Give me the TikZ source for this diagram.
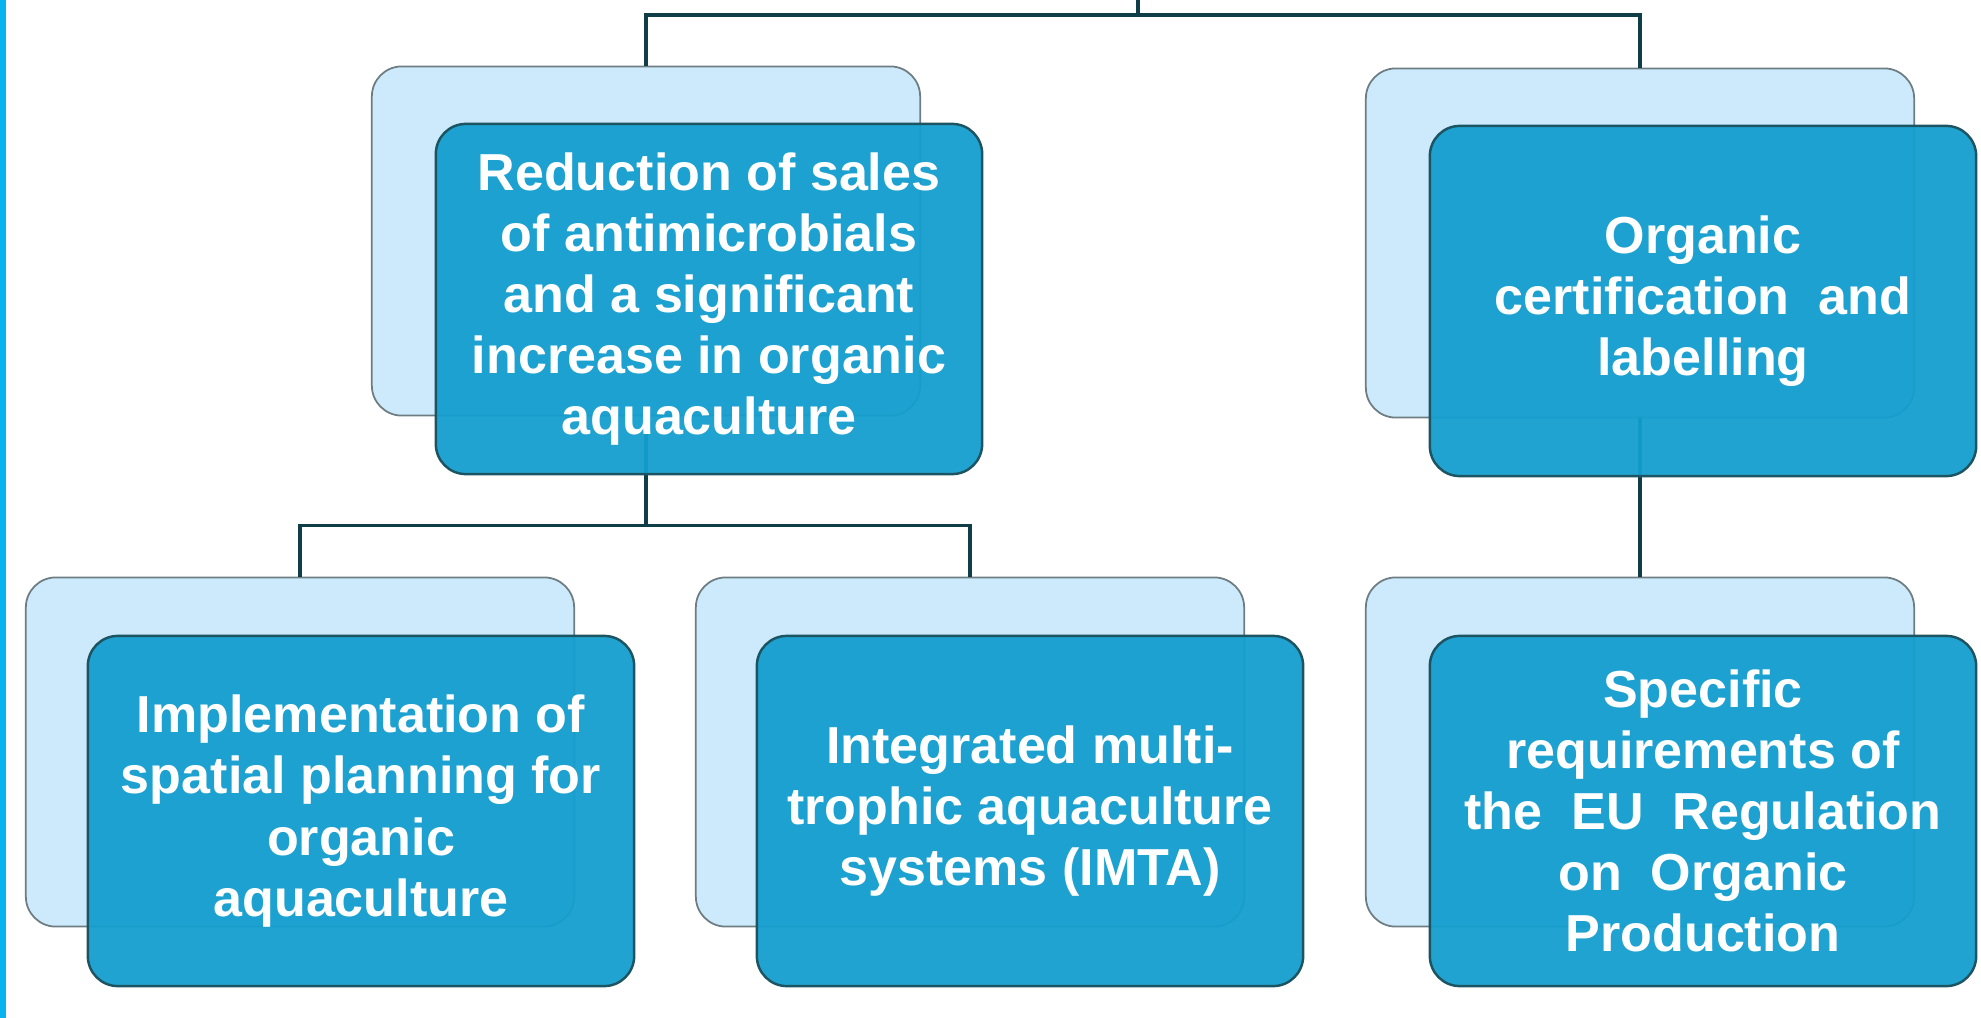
\documentclass[tikz,border=0pt]{standalone}
\usepackage{xcolor}
\usepackage{fontspec}
\setmainfont{Liberation Sans}
\usepackage{tikz}
\usetikzlibrary{positioning, calc}
\definecolor{backblue}{RGB}{204,234,251}
\definecolor{frontblue}{RGB}{20,158,206}
\definecolor{edgegray}{RGB}{110,125,130}
\definecolor{edgeteal}{RGB}{28,84,98}
\definecolor{linkcolor}{RGB}{16,62,72}
\definecolor{stripeblue}{RGB}{8,180,240}

\begin{document}
\begin{tikzpicture}[
    x=0.01cm, y=-0.01cm,
    backbox/.style={rectangle, rounded corners=0.3cm, draw=edgegray, line width=0.5pt, fill=backblue, minimum width=5.48cm, minimum height=3.49cm},
    frontbox/.style={rectangle, rounded corners=0.3cm, draw=edgeteal, line width=0.7pt, fill=frontblue, fill opacity=0.95, text opacity=1, text=white, minimum width=5.46cm, minimum height=3.5cm, align=center, font=\bfseries\fontsize{14.8}{17.4}\selectfont},
    link/.style={draw=linkcolor, line width=1pt}
]
    \useasboundingbox (0,0) rectangle (1981,1018);
    \fill[stripeblue] (0,0) rectangle (6,1018);

    \node[backbox] (reductionbg) at (646,241) {};
    \node[backbox] (organicbg) at (1640,243) {};
    \node[backbox] (spatialbg) at (300,752) {};
    \node[backbox] (imtabg) at (970,752) {};
    \node[backbox] (regulationbg) at (1640,752) {};

    \coordinate (rootend) at (1138,0);
    \coordinate (rootjoin) at (1138,15);
    \draw[link] (rootend) -- (rootjoin) -| (reductionbg.north);
    \draw[link] (rootjoin) -| (organicbg.north);
    \coordinate (reductionjoin) at ($(reductionbg.south)+(0,109)$);
    \draw[link] (reductionbg.south) -- (reductionjoin) -| (spatialbg.north);
    \draw[link] (reductionjoin) -| (imtabg.north);
    \draw[link] (organicbg.south) -- (regulationbg.north);

    \node[frontbox] (reduction) at ($(reductionbg)+(63,58)$) {Reduction of sales\\of antimicrobials\\and a significant\\increase in organic\\aquaculture};
    \node[frontbox] (organic) at ($(organicbg)+(63,58)$) {Organic\\certification~~and\\labelling};
    \node[frontbox] (spatial) at ($(spatialbg)+(61,59)$) {Implementation of\\spatial planning for\\organic\\aquaculture};
    \node[frontbox] (imta) at ($(imtabg)+(60,59)$) {Integrated multi-\\trophic aquaculture\\systems (IMTA)};
    \node[frontbox] (regulation) at ($(regulationbg)+(63,59)$) {Specific\\requirements of\\the~~EU~~Regulation\\on~~Organic\\Production};
\end{tikzpicture}
\end{document}
